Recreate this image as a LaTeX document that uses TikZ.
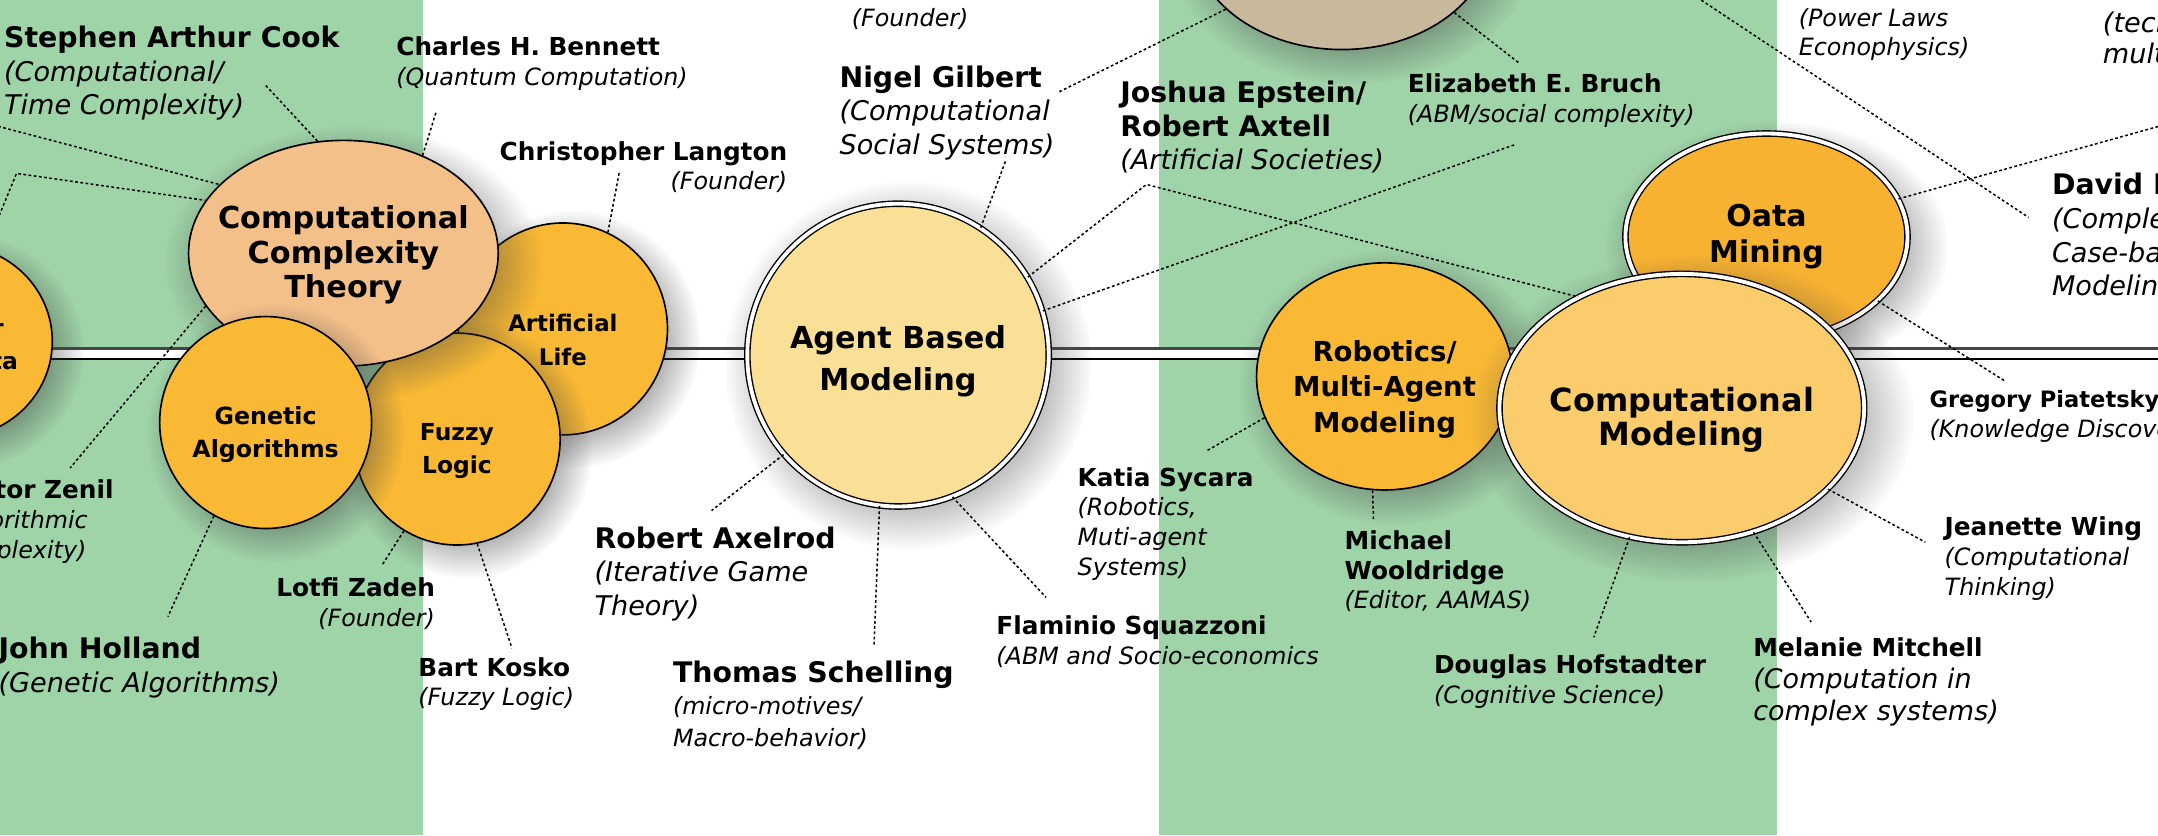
\documentclass[tikz,border=0pt]{standalone}
\usepackage{fontspec}
\newfontfamily\djv{DejaVu Sans}
\usetikzlibrary{shapes.geometric,shadows,fadings}
\definecolor{bandgreen}{RGB}{159,211,168}
\definecolor{orng}{RGB}{249,185,52}
\definecolor{peach}{RGB}{244,192,138}
\definecolor{paleyel}{RGB}{250,223,150}
\definecolor{cmfill}{RGB}{251,204,108}
\definecolor{dmfill}{RGB}{248,178,50}
\definecolor{tanfill}{RGB}{200,185,156}
\definecolor{linegray}{RGB}{70,70,70}
\pgfdeclareradialshading{softshd}{\pgfpointorigin}{color(0bp)=(white); color(14bp)=(white); color(25bp)=(black); color(50bp)=(black)}
\pgfdeclarefading{softfade}{\pgfuseshading{softshd}}
\newcommand\bigname{\djv\upshape\bfseries\fontsize{10.3}{12.3}\selectfont}
\newcommand\smallname{\djv\upshape\bfseries\fontsize{9}{10.8}\selectfont}
\newcommand\bigdesc{\djv\itshape\fontsize{9.85}{12.3}\selectfont}
\newcommand\smalldesc{\djv\itshape\fontsize{8.65}{10.8}\selectfont}
\begin{document}
\begin{tikzpicture}[x=0.5pt,y=-0.5pt,
  softshadow/.style={general shadow={shadow scale=1.22, shadow xshift=3pt, shadow yshift=-3pt, opacity=0.6, fill=black!75, path fading=softfade}},
  circ/.style={ellipse, draw=black, line width=0.6pt, inner sep=0pt, softshadow},
  dbl/.style={draw=black, line width=0.5pt, double=white, double distance=1.4pt},
  ctext/.style 2 args={font=\djv\bfseries\fontsize{#1}{#2}\selectfont, align=center, inner sep=0pt, text=black},
  conn/.style={draw=black, line width=0.55pt, dash pattern=on 1pt off 0.9pt},
  lab/.style={inner sep=0pt, outer sep=0pt, align=left, anchor=north west, text=black},
  labr/.style={inner sep=0pt, outer sep=0pt, align=right, anchor=north east, text=black}]
\useasboundingbox (0,0) rectangle (1568,607);
\clip (0,0) rectangle (1568,607);
% background bands
\fill[white] (0,0) rectangle (1568,607);
\fill[bandgreen] (0,0) rectangle (307,607);
\fill[bandgreen] (842,0) rectangle (1291,607);
% timeline
\fill[white] (0,253) rectangle (1568,261);
\draw[linegray, line width=1.2pt] (0,253) -- (1568,253);
\draw[black, line width=0.6pt] (0,261) -- (1568,261);
% circles
\node[circ, fill=tanfill, minimum width=109pt, minimum height=82pt] (tan) at (975,-46) {};
\node[circ, fill=orng, minimum width=72pt, minimum height=70pt,
  label={[ctext={8.5}{12}, yshift=-1pt]center:Cellular\\Automata}] (ca) at (-34,248) {};
\node[circ, fill=orng, minimum width=76pt, minimum height=77pt,
  label={[ctext={8.3}{12.5}, yshift=-4pt]center:Artificial\\Life}] (al) at (409,239) {};
\node[circ, fill=orng, minimum width=75pt, minimum height=77pt,
  label={[ctext={8.5}{12}, yshift=-4.4pt]center:Fuzzy\\Logic}] (fl) at (332,319) {};
\node[circ, fill=peach, minimum width=112.5pt, minimum height=82pt,
  label={[ctext={11}{12.5}, yshift=-0.6pt]center:Computational\\Complexity\\Theory}] (cct) at (249.5,184) {};
\node[circ, fill=orng, minimum width=77pt, minimum height=77pt,
  label={[ctext={8.6}{12}, yshift=-4.4pt]center:Genetic\\Algorithms}] (ga) at (193,307) {};
\node[circ, dbl, fill=paleyel, minimum width=109.5pt, minimum height=110pt,
  label={[ctext={11}{15.5}, yshift=-2.3pt]center:Agent Based\\Modeling}] (abm) at (652.5,258) {};
\node[circ, fill=orng, minimum width=93pt, minimum height=82.5pt,
  label={[ctext={10}{13}, yshift=-4.75pt]center:Robotics/\\Multi-Agent\\Modeling}] (rob) at (1006,273.5) {};
\node[circ, dbl, fill=dmfill, minimum width=102.5pt, minimum height=75pt,
  label={[ctext={10.9}{13}]center:Oata\\Mining}] (dm) at (1283.5,172) {};
\node[circ, dbl, fill=cmfill, minimum width=132.5pt, minimum height=97.5pt,
  label={[ctext={11.6}{12.5}, yshift=-4.2pt]center:Computational\\Modeling}] (cm) at (1222,296.5) {};
% labels
\node[lab, font=\bigdesc] (cook) at (3,18.6) {{\bigname Stephen Arthur Cook}\\(Computational/\\Time Complexity)};
\node[lab, font=\smalldesc] (bennett) at (288,26.6) {{\smallname Charles H. Bennett}\\(Quantum Computation)};
\node[labr, font=\smalldesc] (langton) at (572,102.6) {{\smallname Christopher Langton}\\(Founder)};
\node[lab, font=\smalldesc] (zenil) at (-42,348.6) {{\smallname Hector Zenil}\\(Algorithmic\\Complexity)};
\node[lab, font=\bigdesc] (holland) at (-1,462.6) {{\bigname John Holland}\\(Genetic Algorithms)};
\node[labr, font=\smalldesc] (lotfi) at (316,419.6) {{\smallname Lotfi Zadeh}\\(Founder)};
\node[lab, font=\smalldesc] (kosko) at (304,477.6) {{\smallname Bart Kosko}\\(Fuzzy Logic)};
\node[lab, font=\smalldesc] (founder) at (619,5.9) {(Founder)};
\node[lab, font=\bigdesc] (nigel) at (610,47.6) {{\bigname Nigel Gilbert}\\(Computational\\Social Systems)};
\node[lab, font=\bigdesc] (epstein) at (814,58.6) {{\bigname Joshua Epstein/}\\{\bigname Robert Axtell}\\(Artificial Societies)};
\node[lab, font=\smalldesc] (bruch) at (1023,53.6) {{\smallname Elizabeth E. Bruch}\\(ABM/social complexity)};
\node[lab, font=\smalldesc] (power) at (1307,5.9) {(Power Laws\\Econophysics)};
\node[lab, font=\djv\itshape\fontsize{9.85}{11}\selectfont] (tech) at (1528,9) {(tech\\mult};
\node[lab, font=\bigdesc] (david) at (1491,125.6) {{\bigname David Byrne}\\(Complexity\\Case-based\\Modeling)};
\node[lab, font=\smalldesc] (gregory) at (1402,283.6) {{\djv\upshape\bfseries\fontsize{8.2}{10}\selectfont Gregory Piatetsky-Shapiro}\\(Knowledge Discovery)};
\node[lab, font=\smalldesc] (jeanette) at (1413,375.6) {{\smallname Jeanette Wing}\\(Computational\\Thinking)};
\node[lab, font=\djv\itshape\fontsize{9.8}{11.5}\selectfont] (melanie) at (1274,463.6) {{\smallname Melanie Mitchell}\\(Computation in\\complex systems)};
\node[lab, font=\smalldesc] (douglas) at (1042,475.6) {{\smallname Douglas Hofstadter}\\(Cognitive Science)};
\node[lab, font=\smalldesc] (michael) at (977,385.6) {{\smallname Michael}\\{\smallname Wooldridge}\\(Editor, AAMAS)};
\node[lab, font=\smalldesc] (katia) at (783,339.6) {{\smallname Katia Sycara}\\(Robotics,\\Muti-agent\\Systems)};
\node[lab, font=\smalldesc] (flaminio) at (724,447.6) {{\smallname Flaminio Squazzoni}\\(ABM and Socio-economics};
\node[lab, font=\djv\itshape\fontsize{8.65}{11.5}\selectfont] (schelling) at (489,480.6) {{\bigname Thomas Schelling}\\(micro-motives/\\Macro-behavior)};
\node[lab, font=\bigdesc] (axelrod) at (432,382.6) {{\bigname Robert Axelrod}\\(Iterative Game\\Theory)};
% free ends of connectors
\coordinate (cookE) at (193,62);
\coordinate (bennE) at (317,81);
\coordinate (langE) at (450,125);
\coordinate (leftA) at (-5,90.8);
\coordinate (leftB1) at (12,126);
\coordinate (leftB0) at (-2,160);
\coordinate (zenilE) at (51,340);
\coordinate (hollE) at (122,448);
\coordinate (lotfiE) at (278,410);
\coordinate (koskoE) at (372,471);
\coordinate (nigelE) at (731,116);
\coordinate (nigelT) at (769,67);
\coordinate (epJ) at (833,134);
\coordinate (bruchA) at (1101,105);
\coordinate (bruchT) at (1104,46);
\coordinate (axelE) at (517,371);
\coordinate (schelE) at (635,470);
\coordinate (flamE) at (760,434);
\coordinate (katiaE) at (876,328);
\coordinate (michE) at (998,378);
\coordinate (dougE) at (1158,463);
\coordinate (melE) at (1316,452);
\coordinate (jeanE) at (1399,394);
\coordinate (gregE) at (1457,277);
\coordinate (davidE) at (1575,90);
\coordinate (longA) at (1233,-2);
\coordinate (longB) at (1474,158);
% connectors
\draw[conn] (cct.103.4) -- (cookE);
\draw[conn] (cct.51.8) -- (bennE);
\draw[conn] (leftA) -- (cct.151.6);
\draw[conn] (leftB0) -- (leftB1) -- (cct.159.2);
\draw[conn] (cct.201.3) -- (zenilE);
\draw[conn] (al.65.4) -- (langE);
\draw[conn] (ga.241) -- (hollE);
\draw[conn] (fl.240.3) -- (lotfiE);
\draw[conn] (fl.281.9) -- (koskoE);
\draw[conn] (abm.57.4) -- (nigelE);
\draw[conn] (tan.212.1) -- (nigelT);
\draw[conn] (abm.31.7) -- (epJ) -- (cm.133.4);
\draw[conn] (abm.17.25) -- (bruchA);
\draw[conn] (tan.326.5) -- (bruchT);
\draw[conn] (abm.221.6) -- (axelE);
\draw[conn] (abm.263.2) -- (schelE);
\draw[conn] (abm.291) -- (flamE);
\draw[conn] (rob.199.5) -- (katiaE);
\draw[conn] (rob.264.6) -- (michE);
\draw[conn] (cm.248.7) -- (dougE);
\draw[conn] (cm.300.9) -- (melE);
\draw[conn] (cm.331.6) -- (jeanE);
\draw[conn] (dm.16.7) -- (davidE);
\draw[conn] (dm.330.7) -- (gregE);
\draw[conn] (longA) -- (longB);
\end{tikzpicture}
\end{document}
